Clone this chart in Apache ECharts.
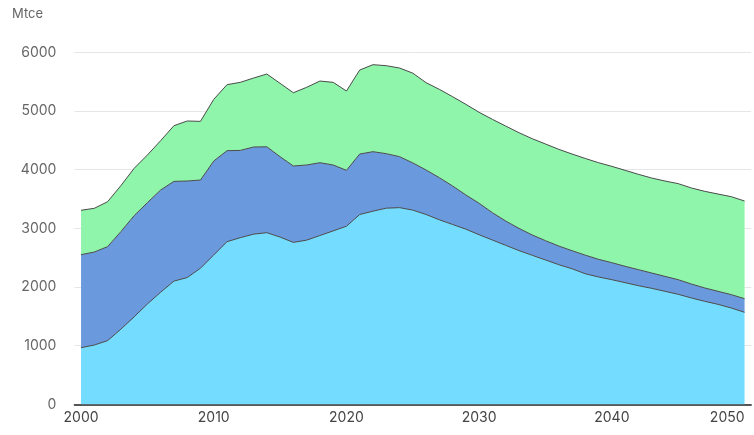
<!DOCTYPE html>
<html>
<head>
<meta charset="utf-8">
<script src="https://cdn.jsdelivr.net/npm/echarts@6/dist/echarts.min.js"></script>
<style>
  html, body { margin: 0; padding: 0; background: #fff; }
  #main { width: 754px; height: 435px; }
</style>
</head>
<body>
<div id="main"></div>
<script>
var years = [];
for (var y = 2000; y <= 2050; y++) years.push(String(y));

// bottom layer (light blue)
var seriesA = [965, 1010, 1085, 1280, 1490, 1710, 1910, 2100, 2160, 2320,
  2545, 2772, 2840, 2900, 2925, 2850, 2760, 2798, 2877, 2956,
  3035, 3235, 3292, 3343, 3352, 3310, 3235, 3145, 3065, 2985,
  2890, 2800, 2710, 2620, 2540, 2460, 2380, 2310, 2225, 2170,
  2124, 2073, 2022, 1977, 1926, 1875, 1812, 1755, 1704, 1641, 1568];
// middle layer (blue)
var seriesB = [1585, 1586, 1602, 1662, 1725, 1727, 1743, 1700, 1646, 1503,
  1602, 1551, 1488, 1485, 1465, 1370, 1302, 1281, 1241, 1123,
  953, 1031, 1014, 929, 869, 805, 759, 718, 656, 583,
  536, 466, 414, 379, 346, 329, 318, 308, 317, 301,
  290, 279, 273, 261, 255, 249, 238, 228, 222, 228, 232];
// top layer (green)
var seriesC = [757, 745, 766, 784, 807, 812, 841, 949, 1023, 1000,
  1051, 1125, 1160, 1176, 1240, 1251, 1249, 1324, 1392, 1409,
  1352, 1432, 1483, 1500, 1511, 1530, 1488, 1506, 1522, 1545,
  1551, 1591, 1619, 1631, 1641, 1648, 1648, 1648, 1648, 1647,
  1642, 1636, 1625, 1619, 1625, 1637, 1637, 1647, 1658, 1670, 1665];

var chart = echarts.init(document.getElementById("main"));

function layer(name, data, color) {
  return {
    name: name,
    type: "line",
    stack: "total",
    data: data,
    symbol: "none",
    lineStyle: { color: "#4a4a4a", width: 1 },
    areaStyle: { color: color, opacity: 1 },
    itemStyle: { color: color },
    emphasis: { disabled: true }
  };
}

var option = {
  animation: false,
  title: {
    text: "Mtce",
    left: 7,
    top: 3,
    textStyle: { fontFamily: "Inter", fontSize: 13, fontWeight: "normal", color: "#666" }
  },
  grid: {
    left: 74.4, right: 2.8, top: 52.3, bottom: 30.7,
    containLabel: false,
    outerBoundsMode: "none"
  },
  xAxis: {
    type: "category",
    data: years,
    boundaryGap: true,
    axisLine: { lineStyle: { color: "#222", width: 1.5 } },
    axisTick: { interval: 9, alignWithLabel: true, length: 9, lineStyle: { color: "#333", width: 1.5 } },
    axisLabel: {
      interval: 9,
      margin: 6,
      fontFamily: "Inter",
      fontSize: 14,
      color: "#444",
      alignMaxLabel: "right",
      hideOverlap: false
    },
    splitLine: { show: false }
  },
  yAxis: {
    type: "value",
    min: 0,
    max: 6000,
    interval: 1000,
    axisLine: { show: false },
    axisTick: { show: false },
    axisLabel: {
      margin: 18,
      fontFamily: "Inter",
      fontSize: 14,
      color: "#666",
      formatter: function (v) { return String(v); }
    },
    splitLine: { lineStyle: { color: "#e6e6e6", width: 1 } }
  },
  series: [
    layer("A", seriesA, "#74DDFF"),
    layer("B", seriesB, "#6A9ADD"),
    layer("C", seriesC, "#8EF5AB")
  ]
};
chart.setOption(option);
</script>
</body>
</html>
